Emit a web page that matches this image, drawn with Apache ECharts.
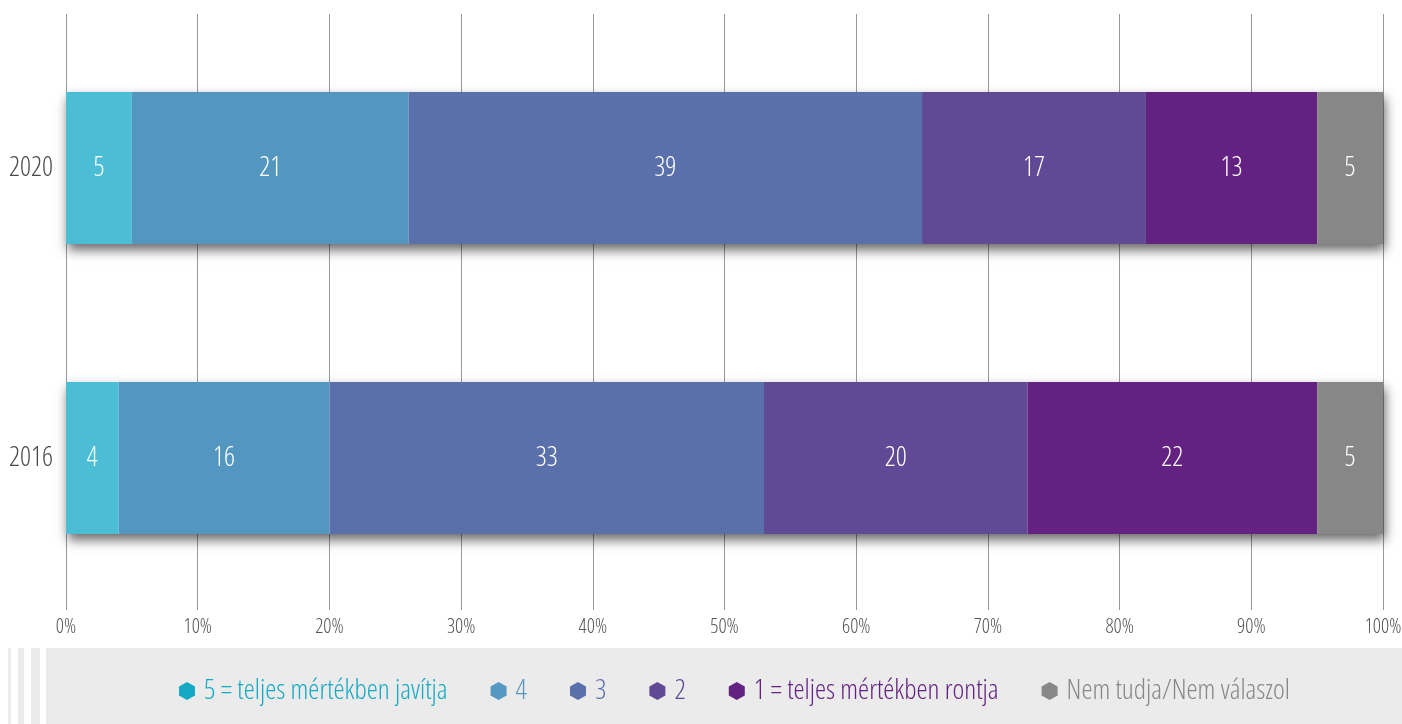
<!DOCTYPE html>
<html>
<head>
<meta charset="utf-8">
<title>Javítja / rontja</title>
<script src="https://cdn.jsdelivr.net/npm/echarts@6/dist/echarts.min.js"></script>
<style>
  html, body { margin: 0; padding: 0; background: #fff; }
  #chart { width: 1402px; height: 724px; }
</style>
</head>
<body>
<div id="chart"></div>
<script>
// adatok
const years = ['2016', '2020']
const val5 = [4, 5]
const val4 = [16, 21]
const val3 = [33, 39]
const val2 = [20, 17]
const val1 = [22, 13]
const valNa = [5, 5]
const names = ['5 = teljes mértékben javítja', '4', '3', '2', '1 = teljes mértékben rontja', 'Nem tudja/Nem válaszol']
const xTicks = [0, 10, 20, 30, 40, 50, 60, 70, 80, 90, 100]

const barColors = ['#4bbdd5', '#5396c0', '#5a70aa', '#604a95', '#632181', '#878787']
const legendColors = ['#14a9c4', '#5598c2', '#5a70aa', '#604a95', '#632181', '#878787']
// keskeny betű: Open Sans változó betűtípus wdth tengelyével
const font = "'Open Sans', sans-serif"
const narrow = '300 condensed'

const values = [val5, val4, val3, val2, val1, valNa]
const totals = years.map((_, i) => values.reduce((s, v) => s + v[i], 0))

const hexIcon = 'path://M8 0 L16 4.5 L16 13.5 L8 18 L0 13.5 L0 4.5 Z'

const chart = echarts.init(document.getElementById('chart'), null, { renderer: 'canvas' })

const series = [
  // árnyék a sávok alatt
  {
    name: 'shadow',
    type: 'bar',
    xAxisIndex: 0,
    yAxisIndex: 0,
    data: totals,
    barWidth: 152,
    barGap: '-100%',
    silent: true,
    itemStyle: {
      color: '#ffffff',
      shadowBlur: 11,
      shadowOffsetX: 2,
      shadowOffsetY: 6,
      shadowColor: 'rgba(0, 0, 0, 0.6)'
    }
  }
]

names.forEach((n, i) => {
  series.push({
    name: n,
    type: 'bar',
    stack: 'total',
    xAxisIndex: 0,
    yAxisIndex: 0,
    data: values[i],
    barWidth: 152,
    barGap: '-100%',
    itemStyle: { color: barColors[i] },
    label: {
      show: true,
      position: 'inside',
      color: '#ffffff',
      fontFamily: font,
      fontWeight: narrow,
      fontSize: 27
    }
  })
})

const option = {
  animation: false,
  textStyle: { fontFamily: font },
  graphic: [
    { type: 'rect', shape: { x: 46, y: 648, width: 1356, height: 76 }, style: { fill: '#ebebeb' }, z: -10 },
    { type: 'rect', shape: { x: 8, y: 648, width: 3, height: 76 }, style: { fill: '#ebebeb' }, z: -10 },
    { type: 'rect', shape: { x: 18, y: 648, width: 6, height: 76 }, style: { fill: '#ebebeb' }, z: -10 },
    { type: 'rect', shape: { x: 31, y: 648, width: 9, height: 76 }, style: { fill: '#ebebeb' }, z: -10 }
  ],
  legend: {
    left: 174,
    top: 672,
    itemWidth: 16,
    itemHeight: 18,
    itemGap: 43,
    icon: hexIcon,
    textStyle: { fontFamily: font, fontWeight: narrow, fontSize: 28, lineHeight: 28, padding: [0, 0, 0, 4] },
    data: names.map((n, i) => ({
      name: n,
      itemStyle: { color: legendColors[i] },
      textStyle: { color: legendColors[i], fontFamily: font, fontWeight: narrow, fontSize: 28, lineHeight: 28, padding: [0, 0, 0, 4] }
    }))
  },
  grid: [
    // sávok
    { left: 66, right: 19, top: 23, bottom: 121, outerBoundsMode: 'none' },
    // rácsvonalak és tengelyfeliratok
    { left: 66, right: 19, top: 14, bottom: 114, outerBoundsMode: 'none' }
  ],
  xAxis: [
    {
      type: 'value',
      gridIndex: 0,
      min: 0,
      max: 100,
      interval: 10,
      show: false
    },
    {
      type: 'value',
      gridIndex: 1,
      min: xTicks[0],
      max: xTicks[xTicks.length - 1],
      interval: 10,
      axisLine: { show: false },
      axisTick: { show: false },
      splitLine: { show: true, lineStyle: { color: '#9a9a9a', width: 1 } },
      axisLabel: {
        color: '#555555',
        fontFamily: font,
        fontWeight: narrow,
        fontSize: 20,
        margin: 7,
        formatter: '{value}%'
      }
    }
  ],
  yAxis: [
    {
      type: 'category',
      gridIndex: 0,
      data: years,
      axisLine: { show: false },
      axisTick: { show: false },
      axisLabel: {
        color: '#4a4a4a',
        fontFamily: font,
        fontWeight: narrow,
        fontSize: 27,
        margin: 13
      }
    },
    {
      type: 'category',
      gridIndex: 1,
      data: years,
      show: false
    }
  ],
  series: series
}

chart.setOption(option)
</script>
</body>
</html>
